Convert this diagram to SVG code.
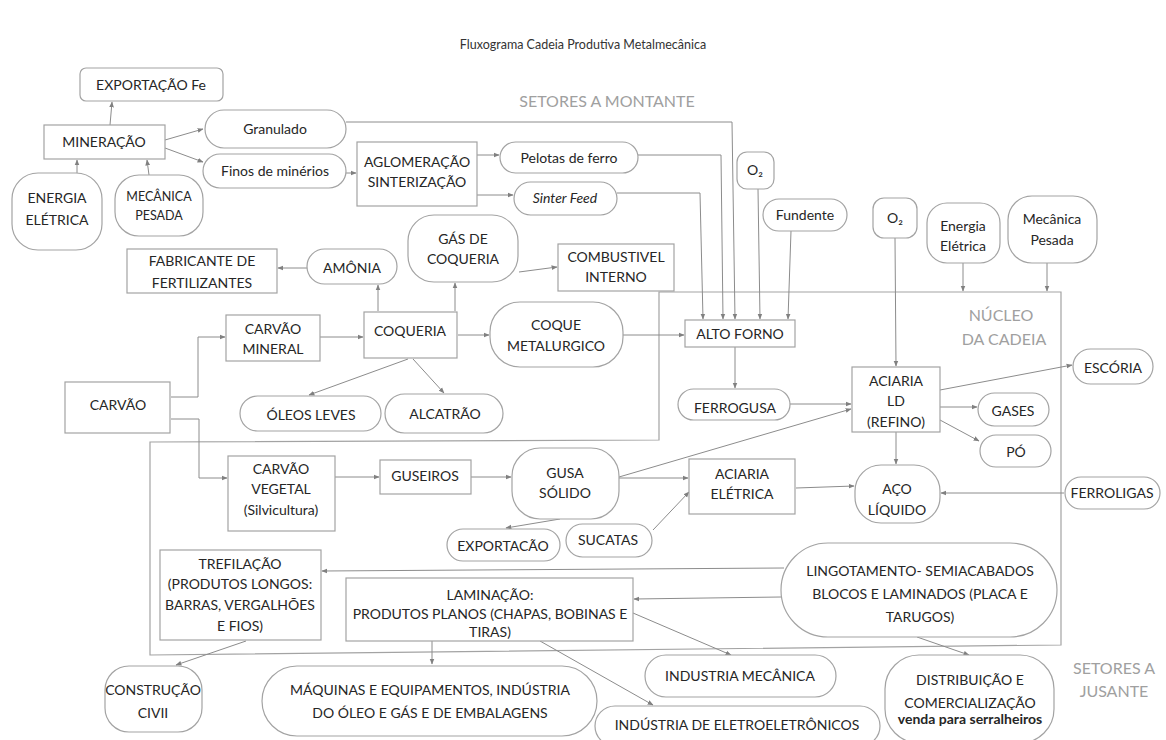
<svg xmlns="http://www.w3.org/2000/svg" width="1166" height="740" viewBox="0 0 1166 740">
<defs>
<marker id="ah" viewBox="0 0 10 10" refX="9" refY="5" markerWidth="6" markerHeight="6" orient="auto" markerUnits="userSpaceOnUse">
<path d="M0,1 L10,5 L0,9 z" fill="#808080"/>
</marker>
<style>
.n{fill:#fff;stroke:#a3a3a3;stroke-width:1.2}
.t{font-family:Lato,"Liberation Sans",sans-serif;font-size:14px;fill:#262626;text-anchor:middle}
.s{font-size:12.5px}
.g{font-family:Lato,"Liberation Sans",sans-serif;font-size:16px;fill:#a0a0a0;text-anchor:middle}
.c{fill:none;stroke:#8c8c8c;stroke-width:1}
.a{marker-end:url(#ah)}
.b{fill:none;stroke:#a3a3a3;stroke-width:1.2}
</style>
</defs>
<rect width="1166" height="740" fill="#fff"/>
<text x="583" y="49" font-family="Lato,'Liberation Sans',sans-serif" font-size="12.5" fill="#333" text-anchor="middle">Fluxograma Cadeia Produtiva Metalmecânica</text>

<g id="labels">
<text class="g" x="607" y="107">SETORES A MONTANTE</text>
<text class="g" x="1001" y="321">NÚCLEO</text>
<text class="g" x="1004" y="345">DA CADEIA</text>
<text class="g" x="1114" y="674">SETORES A</text>
<text class="g" x="1114" y="697">JUSANTE</text>
</g>

<g id="boundary">
<path class="b" d="M150,655 L150,442 L659,440 L659,292 L1061,292 L1061,645 Z"/>
</g>

<g id="connectors">
<path class="c a" d="M110,125 L112,102"/>
<path class="c a" d="M77,173 L77,160"/>
<path class="c a" d="M149,175 L147,160"/>
<path class="c a" d="M165,140 L203,129"/>
<path class="c a" d="M165,148 L203,162"/>
<path class="c a" d="M346,173 L356,173"/>
<path class="c a" d="M477,155 L499,155"/>
<path class="c a" d="M477,195 L513,195"/>
<path class="c a" d="M346,122 L732,122 L735,319"/>
<path class="c a" d="M638,155 L721,155 L723,319"/>
<path class="c a" d="M617,193 L700,193 L703,319"/>
<path class="c a" d="M758,189 L760,319"/>
<path class="c a" d="M791,231 L788,319"/>
<path class="c a" d="M623,335 L684,335"/>
<path class="c a" d="M735,347 L735,388"/>
<path class="c a" d="M790,404 L851,404"/>
<path class="c a" d="M619,477 L851,409"/>
<path class="c a" d="M895,238 L896,366"/>
<path class="c a" d="M963,263 L963,291"/>
<path class="c a" d="M1047,263 L1047,291"/>
<path class="c a" d="M940,390 L1072,365"/>
<path class="c a" d="M940,407 L977,407"/>
<path class="c a" d="M940,420 L979,441"/>
<path class="c a" d="M896,432 L896,464"/>
<path class="c a" d="M796,488 L854,486"/>
<path class="c a" d="M1064,493 L941,493"/>
<path class="c a" d="M619,478 L688,478"/>
<path class="c a" d="M653,530 L689,492"/>
<path class="c a" d="M560,519 L506,528"/>
<path class="c a" d="M471,477 L511,477"/>
<path class="c a" d="M335,477 L379,477"/>
<path class="c a" d="M171,419 L199,419 L199,478 L227,478"/>
<path class="c a" d="M171,397 L198,397 L198,337 L225,337"/>
<path class="c a" d="M320,337 L363,337"/>
<path class="c a" d="M458,335 L489,335"/>
<path class="c a" d="M378,311 L378,285"/>
<path class="c a" d="M455,311 L455,283"/>
<path class="c a" d="M519,272 L557,267"/>
<path class="c a" d="M307,268 L278,268"/>
<path class="c a" d="M408,359 L309,395"/>
<path class="c a" d="M413,359 L444,393"/>
<path class="c a" d="M784,568 L322,571"/>
<path class="c a" d="M781,597 L634,599"/>
<path class="c a" d="M917,637 L969,655"/>
<path class="c a" d="M633,613 L731,655"/>
<path class="c a" d="M540,641 L653,705"/>
<path class="c a" d="M432,641 L432,664"/>
<path class="c a" d="M246,641 L176,665"/>
</g>

<g id="exportacao-fe"><rect class="n" x="80" y="68" width="143" height="33" rx="6"/><text class="t" x="151" y="90">EXPORTAÇÃO Fe</text></g>
<g id="mineracao"><rect class="n" x="44" y="125" width="121" height="34"/><text class="t" x="104" y="147">MINERAÇÃO</text></g>
<g id="granulado"><rect class="n" x="205" y="110" width="141" height="38" rx="19"/><text class="t" x="275" y="134">Granulado</text></g>
<g id="finos"><rect class="n" x="203" y="154" width="143" height="34" rx="17"/><text class="t" x="275" y="176">Finos de minérios</text></g>
<g id="energia-eletrica-1"><rect class="n" x="12" y="173" width="90" height="77" rx="26"/><text class="t" x="57" y="203">ENERGIA</text><text class="t" x="57" y="225">ELÉTRICA</text></g>
<g id="mecanica-pesada-1"><rect class="n" x="115" y="175" width="88" height="61" rx="24"/><text class="t s" x="159" y="201">MECÂNICA</text><text class="t s" x="159" y="220">PESADA</text></g>
<g id="aglomeracao"><rect class="n" x="357" y="142" width="120" height="64"/><text class="t" x="417" y="167">AGLOMERAÇÃO</text><text class="t" x="417" y="187">SINTERIZAÇÃO</text></g>
<g id="pelotas"><rect class="n" x="500" y="142" width="138" height="31" rx="15.5"/><text class="t" x="569" y="163">Pelotas de ferro</text></g>
<g id="sinter-feed"><rect class="n" x="514" y="182" width="103" height="33" rx="16.5"/><text class="t" x="565" y="203" font-style="italic">Sinter Feed</text></g>
<g id="gas-coqueria"><rect class="n" x="408" y="215" width="110" height="67" rx="26"/><text class="t" x="463" y="244">GÁS DE</text><text class="t" x="463" y="264">COQUERIA</text></g>
<g id="combustivel"><rect class="n" x="558" y="244" width="116" height="47"/><text class="t" x="616" y="262">COMBUSTIVEL</text><text class="t" x="616" y="282">INTERNO</text></g>
<g id="fabricante"><rect class="n" x="127" y="249" width="150" height="44"/><text class="t" x="202" y="266">FABRICANTE DE</text><text class="t" x="202" y="288">FERTILIZANTES</text></g>
<g id="amonia"><rect class="n" x="307" y="249" width="90" height="35" rx="17.5"/><text class="t" x="352" y="273">AMÔNIA</text></g>
<g id="o2-1"><rect class="n" x="737" y="152" width="37" height="37" rx="10"/><text class="t" x="755" y="175">O₂</text></g>
<g id="fundente"><rect class="n" x="763" y="199" width="84" height="32" rx="16"/><text class="t" x="805" y="220">Fundente</text></g>
<g id="o2-2"><rect class="n" x="873" y="198" width="44" height="40" rx="11"/><text class="t" x="895" y="223">O₂</text></g>
<g id="energia-eletrica-2"><rect class="n" x="927" y="203" width="73" height="60" rx="20"/><text class="t" x="963" y="231">Energia</text><text class="t" x="963" y="251">Elétrica</text></g>
<g id="mecanica-pesada-2"><rect class="n" x="1008" y="196" width="89" height="67" rx="24"/><text class="t" x="1052" y="224">Mecânica</text><text class="t" x="1052" y="245">Pesada</text></g>
<g id="carvao-mineral"><rect class="n" x="226" y="315" width="94" height="46"/><text class="t" x="273" y="334">CARVÃO</text><text class="t" x="273" y="354">MINERAL</text></g>
<g id="coqueria"><rect class="n" x="364" y="312" width="93" height="46"/><text class="t" x="410" y="336">COQUERIA</text></g>
<g id="coque"><rect class="n" x="490" y="302" width="133" height="65" rx="30"/><text class="t" x="556" y="330">COQUE</text><text class="t" x="556" y="351">METALURGICO</text></g>
<g id="alto-forno"><rect class="n" x="685" y="320" width="110" height="27"/><text class="t" x="740" y="339">ALTO FORNO</text></g>
<g id="carvao"><rect class="n" x="65" y="382" width="105" height="51"/><text class="t" x="118" y="410">CARVÃO</text></g>
<g id="oleos-leves"><rect class="n" x="240" y="396" width="141" height="35" rx="17.5"/><text class="t" x="311" y="420">ÓLEOS LEVES</text></g>
<g id="alcatrao"><rect class="n" x="385" y="394" width="118" height="39" rx="19.5"/><text class="t" x="445" y="419">ALCATRÃO</text></g>
<g id="ferrogusa"><rect class="n" x="678" y="389" width="112" height="31" rx="15.5"/><text class="t" x="735" y="413">FERROGUSA</text></g>
<g id="aciaria-ld"><rect class="n" x="852" y="367" width="88" height="65"/><text class="t" x="896" y="386">ACIARIA</text><text class="t" x="896" y="406">LD</text><text class="t" x="896" y="427">(REFINO)</text></g>
<g id="escoria"><rect class="n" x="1073" y="349" width="80" height="35" rx="17.5"/><text class="t" x="1113" y="373">ESCÓRIA</text></g>
<g id="gases"><rect class="n" x="978" y="393" width="71" height="33" rx="16.5"/><text class="t" x="1013" y="416">GASES</text></g>
<g id="po"><rect class="n" x="980" y="435" width="71" height="32" rx="16"/><text class="t" x="1016" y="457">PÓ</text></g>
<g id="aco-liquido"><rect class="n" x="855" y="465" width="85" height="58" rx="26"/><text class="t" x="897" y="494">AÇO</text><text class="t" x="897" y="515">LÍQUIDO</text></g>
<g id="ferroligas"><rect class="n" x="1065" y="477" width="95" height="32" rx="16"/><text class="t" x="1112" y="498">FERROLIGAS</text></g>
<g id="carvao-vegetal"><rect class="n" x="228" y="456" width="107" height="75"/><text class="t" x="281" y="474">CARVÃO</text><text class="t" x="281" y="494">VEGETAL</text><text class="t" x="281" y="515">(Silvicultura)</text></g>
<g id="guseiros"><rect class="n" x="380" y="460" width="91" height="34"/><text class="t" x="425" y="481">GUSEIROS</text></g>
<g id="gusa-solido"><rect class="n" x="512" y="448" width="107" height="71" rx="28"/><text class="t" x="565" y="478">GUSA</text><text class="t" x="565" y="498">SÓLIDO</text></g>
<g id="aciaria-eletrica"><rect class="n" x="689" y="459" width="106" height="55"/><text class="t" x="742" y="479">ACIARIA</text><text class="t" x="742" y="499">ELÉTRICA</text></g>
<g id="exportacao"><rect class="n" x="447" y="529" width="113" height="32" rx="16"/><text class="t" x="503" y="551">EXPORTACÃO</text></g>
<g id="sucatas"><rect class="n" x="566" y="524" width="86" height="33" rx="16.5"/><text class="t" x="608" y="545">SUCATAS</text></g>
<g id="trefilacao"><rect class="n" x="160" y="550" width="161" height="90"/><text class="t" x="240" y="569">TREFILAÇÃO</text><text class="t" x="240" y="589">(PRODUTOS LONGOS:</text><text class="t" x="240" y="610">BARRAS, VERGALHÕES</text><text class="t" x="240" y="631">E FIOS)</text></g>
<g id="laminacao"><rect class="n" x="346" y="578" width="287" height="63"/><text class="t" x="490" y="600">LAMINAÇÃO:</text><text class="t" x="490" y="619">PRODUTOS PLANOS (CHAPAS, BOBINAS E</text><text class="t" x="490" y="637">TIRAS)</text></g>
<g id="lingotamento"><rect class="n" x="781" y="543" width="276" height="94" rx="47"/><text class="t" x="920" y="576">LINGOTAMENTO- SEMIACABADOS</text><text class="t" x="920" y="599">BLOCOS E LAMINADOS (PLACA E</text><text class="t" x="920" y="622">TARUGOS)</text></g>
<g id="construcao"><rect class="n" x="105" y="666" width="97" height="66" rx="24"/><text class="t" x="153" y="695">CONSTRUÇÃO</text><text class="t" x="153" y="718">CIVII</text></g>
<g id="maquinas"><rect class="n" x="262" y="666" width="335" height="70" rx="35"/><text class="t" x="430" y="695">MÁQUINAS E EQUIPAMENTOS, INDÚSTRIA</text><text class="t" x="430" y="718">DO ÓLEO E GÁS E DE EMBALAGENS</text></g>
<g id="industria-mecanica"><rect class="n" x="645" y="655" width="191" height="42" rx="21"/><text class="t" x="740" y="681">INDUSTRIA MECÂNICA</text></g>
<g id="eletroeletronicos"><rect class="n" x="595" y="706" width="285" height="40" rx="20"/><text class="t" x="737" y="730">INDÚSTRIA DE ELETROELETRÔNICOS</text></g>
<g id="distribuicao"><rect class="n" x="885" y="655" width="169" height="88" rx="34"/><text class="t" x="970" y="685">DISTRIBUIÇÃO E</text><text class="t" x="970" y="708">COMERCIALIZAÇÃO</text><text class="t" x="970" y="724" font-size="8.5" font-weight="bold">venda para serralheiros</text></g>
</svg>
